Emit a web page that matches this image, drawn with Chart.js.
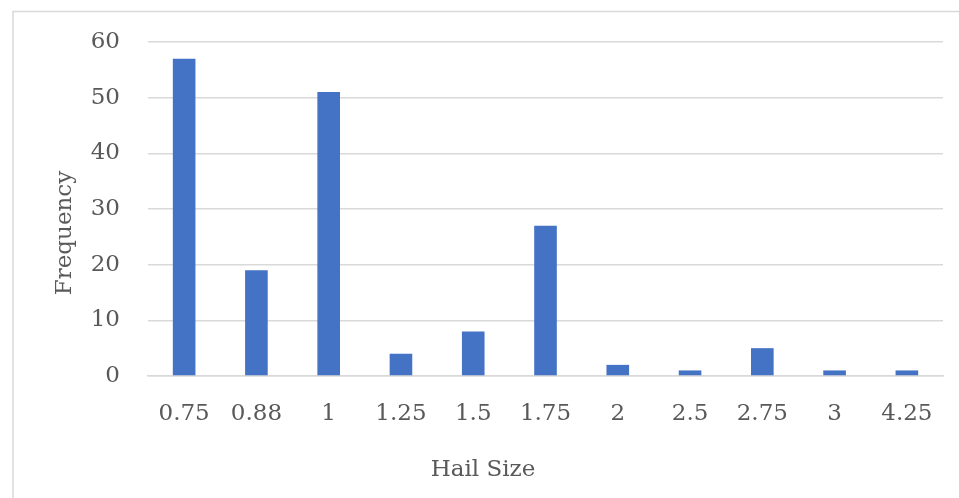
<!DOCTYPE html>
<html>
<head>
<meta charset="utf-8">
<title>Hail Size Frequency</title>
<script src="https://cdn.jsdelivr.net/npm/chart.js@4/dist/chart.umd.min.js"></script>
<style>
  html, body { margin: 0; padding: 0; background: #ffffff; overflow: hidden; }
  #wrap { position: relative; width: 959px; height: 498px; }
</style>
</head>
<body>
<div id="wrap"><canvas id="chart" width="959" height="498"></canvas></div>
<script>
// Hail size categories (inches) and how often each was reported
const hailSizes = ['0.75', '0.88', '1', '1.25', '1.5', '1.75', '2', '2.5', '2.75', '3', '4.25'];
const frequency = [57, 19, 51, 4, 8, 27, 2, 1, 5, 1, 1];
const yTicks = [0, 10, 20, 30, 40, 50, 60];

const FONT = '"DejaVu Serif", serif';
const TEXT = '#595959';
const GRID = '#d9d9d9';

// Outer frame and axis titles, drawn directly on the canvas
const frameAndTitles = {
  id: 'frameAndTitles',
  beforeDraw(chart) {
    const ctx = chart.ctx;
    ctx.save();
    ctx.strokeStyle = GRID;
    ctx.lineWidth = 1.5;
    ctx.beginPath();
    ctx.moveTo(13, chart.height);
    ctx.lineTo(13, 11.5);
    ctx.lineTo(chart.width, 11.5);
    ctx.stroke();
    ctx.restore();
  },
  afterDraw(chart) {
    const ctx = chart.ctx;
    ctx.save();
    ctx.fillStyle = TEXT;
    ctx.font = '23px ' + FONT;
    ctx.textAlign = 'center';
    ctx.textBaseline = 'middle';
    ctx.fillText('Hail Size', 483, 470);
    ctx.translate(65, 233);
    ctx.rotate(-Math.PI / 2);
    ctx.fillText('Frequency', 0, 0);
    ctx.restore();
  }
};

new Chart(document.getElementById('chart'), {
  type: 'bar',
  data: {
    labels: hailSizes,
    datasets: [{
      label: 'Frequency',
      data: frequency,
      backgroundColor: '#4472C4',
      borderWidth: 0,
      categoryPercentage: 1,
      barPercentage: 0.313
    }]
  },
  options: {
    responsive: false,
    animation: false,
    layout: { padding: { left: 0, right: 16, top: 42, bottom: 0 } },
    plugins: {
      legend: { display: false },
      tooltip: { enabled: false }
    },
    scales: {
      x: {
        grid: { display: false, drawTicks: false },
        border: { display: true, color: GRID, width: 1.5 },
        ticks: {
          color: TEXT,
          font: { family: FONT, size: 23 },
          padding: 24,
          maxRotation: 0,
          autoSkip: false
        },
        afterFit(scale) { scale.height = 122; }
      },
      y: {
        min: 0,
        max: 60,
        afterBuildTicks(scale) { scale.ticks = yTicks.map(v => ({ value: v })); },
        grid: { color: GRID, lineWidth: 1.5, drawTicks: false },
        border: { display: false },
        ticks: {
          color: TEXT,
          font: { family: FONT, size: 23 },
          padding: 28
        },
        afterFit(scale) { scale.width = 148; }
      }
    }
  },
  plugins: [frameAndTitles]
});
</script>
</body>
</html>
